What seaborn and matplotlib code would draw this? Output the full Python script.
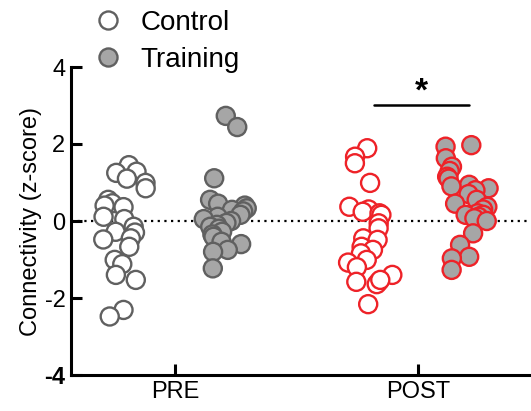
import numpy as np
import pandas as pd
import matplotlib
matplotlib.use("Agg")
import matplotlib.pyplot as plt
import seaborn as sns
from matplotlib.lines import Line2D

sns.set_style("ticks")
plt.rcParams['font.family'] = ['Liberation Sans', 'DejaVu Sans']
plt.rcParams['text.color'] = 'black'
plt.rcParams['axes.labelcolor'] = 'black'
plt.rcParams['xtick.color'] = 'black'
plt.rcParams['ytick.color'] = 'black'
plt.rcParams['axes.edgecolor'] = 'black'

times = ["PRE", "POST"]
groups = ["Control", "Training"]

control_pre = [1.45, 1.28, 1.25, 1.10, 0.99, 0.85, 0.55, 0.46, 0.40, 0.36, 0.11, 0.05,
               -0.15, -0.28, -0.30, -0.45, -0.48, -0.67, -1.01, -1.12, -1.40, -1.53, -2.31, -2.48]
training_pre = [2.73, 2.44, 1.11, 0.55, 0.45, 0.40, 0.33, 0.29, 0.25, 0.16, 0.11, 0.05, 0.0,
                -0.05, -0.10, -0.15, -0.20, -0.28, -0.35, -0.41, -0.54, -0.60, -0.75, -0.80, -1.23]
control_post = [1.89, 1.67, 1.50, 0.99, 0.37, 0.30, 0.24, 0.20, 0.16, -0.06, -0.19, -0.45,
                -0.49, -0.67, -0.75, -0.84, -1.01, -1.08, -1.20, -1.40, -1.58, -1.58, -1.64,
                -1.53, -2.16]
training_post = [1.97, 1.93, 1.63, 1.41, 1.30, 1.15, 1.10, 0.94, 0.90, 0.85, 0.80, 0.70, 0.55,
                 0.45, 0.37, 0.30, 0.20, 0.16, 0.16, 0.11, 0.07, 0.0, -0.32, -0.62, -0.93,
                 -0.97, -1.27]

y_ticks = [-4, -2, 0, 2, 4]
sig_level = 3.0

rows = []
for t, g, vals in [("PRE", "Control", control_pre), ("PRE", "Training", training_pre),
                   ("POST", "Control", control_post), ("POST", "Training", training_post)]:
    for v in vals:
        rows.append({"Time": t, "Group": g, "z": v})
df = pd.DataFrame(rows)

gray_edge = "#606060"
gray_face = "#a6a6a6"
red = "#ee2228"
palette = {"Control": "white", "Training": gray_face}
msize = 13

fig = plt.figure(figsize=(5.31, 4.11), dpi=100)
ax = fig.add_axes([71/531, 36/411, 460/531, 308/411])

np.random.seed(3)
for t, ec in [("PRE", gray_edge), ("POST", red)]:
    sns.stripplot(data=df[df.Time == t], x="Time", y="z", hue="Group", order=times,
                  hue_order=groups, palette=palette, dodge=True, jitter=0.2,
                  size=msize, linewidth=1.7, edgecolor=ec, ax=ax, legend=False,
                  zorder=3)

ax.set_xlim(-0.428, 1.465)
ax.set_ylim(-4, 4)
ax.set_yticks(y_ticks)
ax.set_yticklabels([str(v) for v in y_ticks], fontsize=17)
ax.get_yticklabels()[0].set_fontweight("bold")
ax.set_xticks([0, 1])
ax.set_xticklabels(times, fontsize=17)
ax.set_xlabel("")
ax.set_ylabel("Connectivity (z-score)", fontsize=17, labelpad=2)
ax.axhline(0, color="black", linestyle=(0, (1, 2)), linewidth=1.6, zorder=1)

for side in ["top", "right"]:
    ax.spines[side].set_visible(False)
ax.spines["left"].set_linewidth(2.2)
ax.spines["bottom"].set_linewidth(2.2)
ax.tick_params(axis="both", direction="in", length=8, width=2.2, pad=4)

# significance bar
ax.plot([0.82, 1.21], [sig_level, sig_level], color="black", linewidth=1.8, clip_on=False)
ax.text(1.015, sig_level - 0.06, "*", ha="center", va="bottom", fontsize=24, fontweight="bold")

handles = [
    Line2D([], [], marker="o", linestyle="", markersize=msize, markerfacecolor="white",
           markeredgecolor=gray_edge, markeredgewidth=1.7, label="Control"),
    Line2D([], [], marker="o", linestyle="", markersize=msize, markerfacecolor=gray_face,
           markeredgecolor=gray_edge, markeredgewidth=1.7, label="Training"),
]
fig.legend(handles=handles, loc="upper left", bbox_to_anchor=(0.178, 0.976), frameon=False,
           fontsize=20, handletextpad=0.65, labelspacing=0.4, borderaxespad=0,
           handlelength=1.0, borderpad=0)

fig.savefig("out.png", dpi=100)
